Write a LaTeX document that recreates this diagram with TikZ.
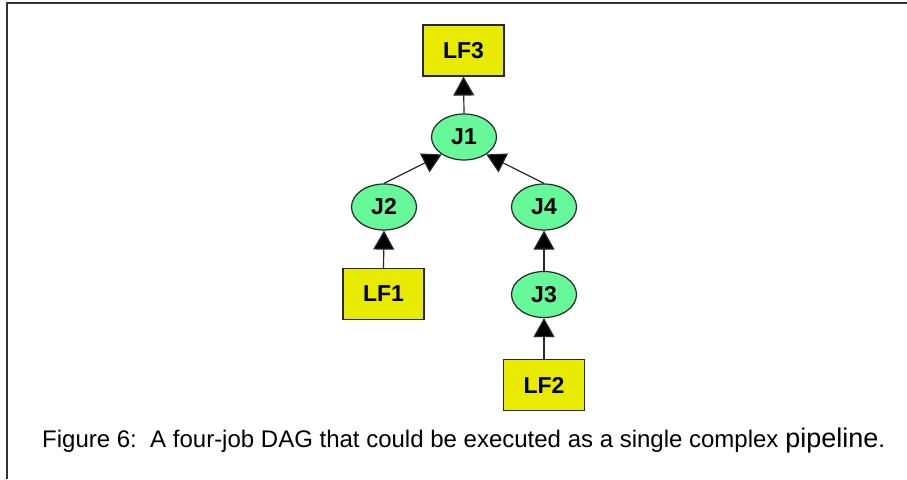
\documentclass[tikz,border=0pt]{standalone}
\usepackage{fontspec}
\setmainfont{Liberation Sans}
\usetikzlibrary{arrows.meta,shapes.geometric}
\definecolor{filefill}{RGB}{232,234,0}
\definecolor{jobfill}{RGB}{102,248,153}
\definecolor{edgegray}{RGB}{40,40,40}
\tikzset{
  filebox/.style={draw=edgegray, line width=1.2pt, fill=filefill, rectangle,
    minimum width=81pt, minimum height=51pt, inner sep=0pt,
    font=\fontsize{23}{25}\selectfont\bfseries},
  jobnode/.style={draw=edgegray, line width=1.2pt, fill=jobfill, ellipse,
    minimum width=65pt, minimum height=46pt, inner sep=0pt,
    font=\fontsize{23}{25}\selectfont\bfseries},
  dep/.style={draw=edgegray, line width=1.2pt,
    -{Triangle[width=21pt,length=19pt,fill=black]}},
  frameline/.style={draw=black!80, line width=1.8pt}
}
\begin{document}
\begin{tikzpicture}[x=1pt,y=-1pt]
  \useasboundingbox (0,0) rectangle (907,479);
  % frame: top and left edges
  \coordinate (fTR) at (907,3);
  \coordinate (fTL) at (7,3);
  \coordinate (fBL) at (7,479);
  \draw[frameline] (fTR) -- (fTL) -- (fBL);

  % files and jobs
  \node[filebox] (LF3) at (463.5,50.5) {LF3};
  \node[jobnode] (J1) at (464,137) {J1};
  \node[jobnode] (J2) at (384,207) {J2};
  \node[jobnode] (J4) at (544,207) {J4};
  \node[filebox] (LF1) at (383.5,294) {LF1};
  \node[jobnode] (J3) at (544,294.5) {J3};
  \node[filebox] (LF2) at (544,385) {LF2};

  % dependencies
  \draw[dep] (J1.north) -- (LF3.south);
  \draw[dep] (J2.north) -- (J1.218);
  \draw[dep] (J4.north) -- (J1.322);
  \draw[dep] (LF1.north) -- (J2.south);
  \draw[dep] (J3.north) -- (J4.south);
  \draw[dep] (LF2.north) -- (J3.south);

  % caption
  \node[anchor=base west, inner sep=0pt, font=\fontsize{24}{27}\selectfont] (cap) at (42,447)
    {Figure 6:\ \ A four-job DAG that could be executed as a single complex {\fontsize{27}{29}\selectfont pipeline}.};
\end{tikzpicture}
\end{document}
